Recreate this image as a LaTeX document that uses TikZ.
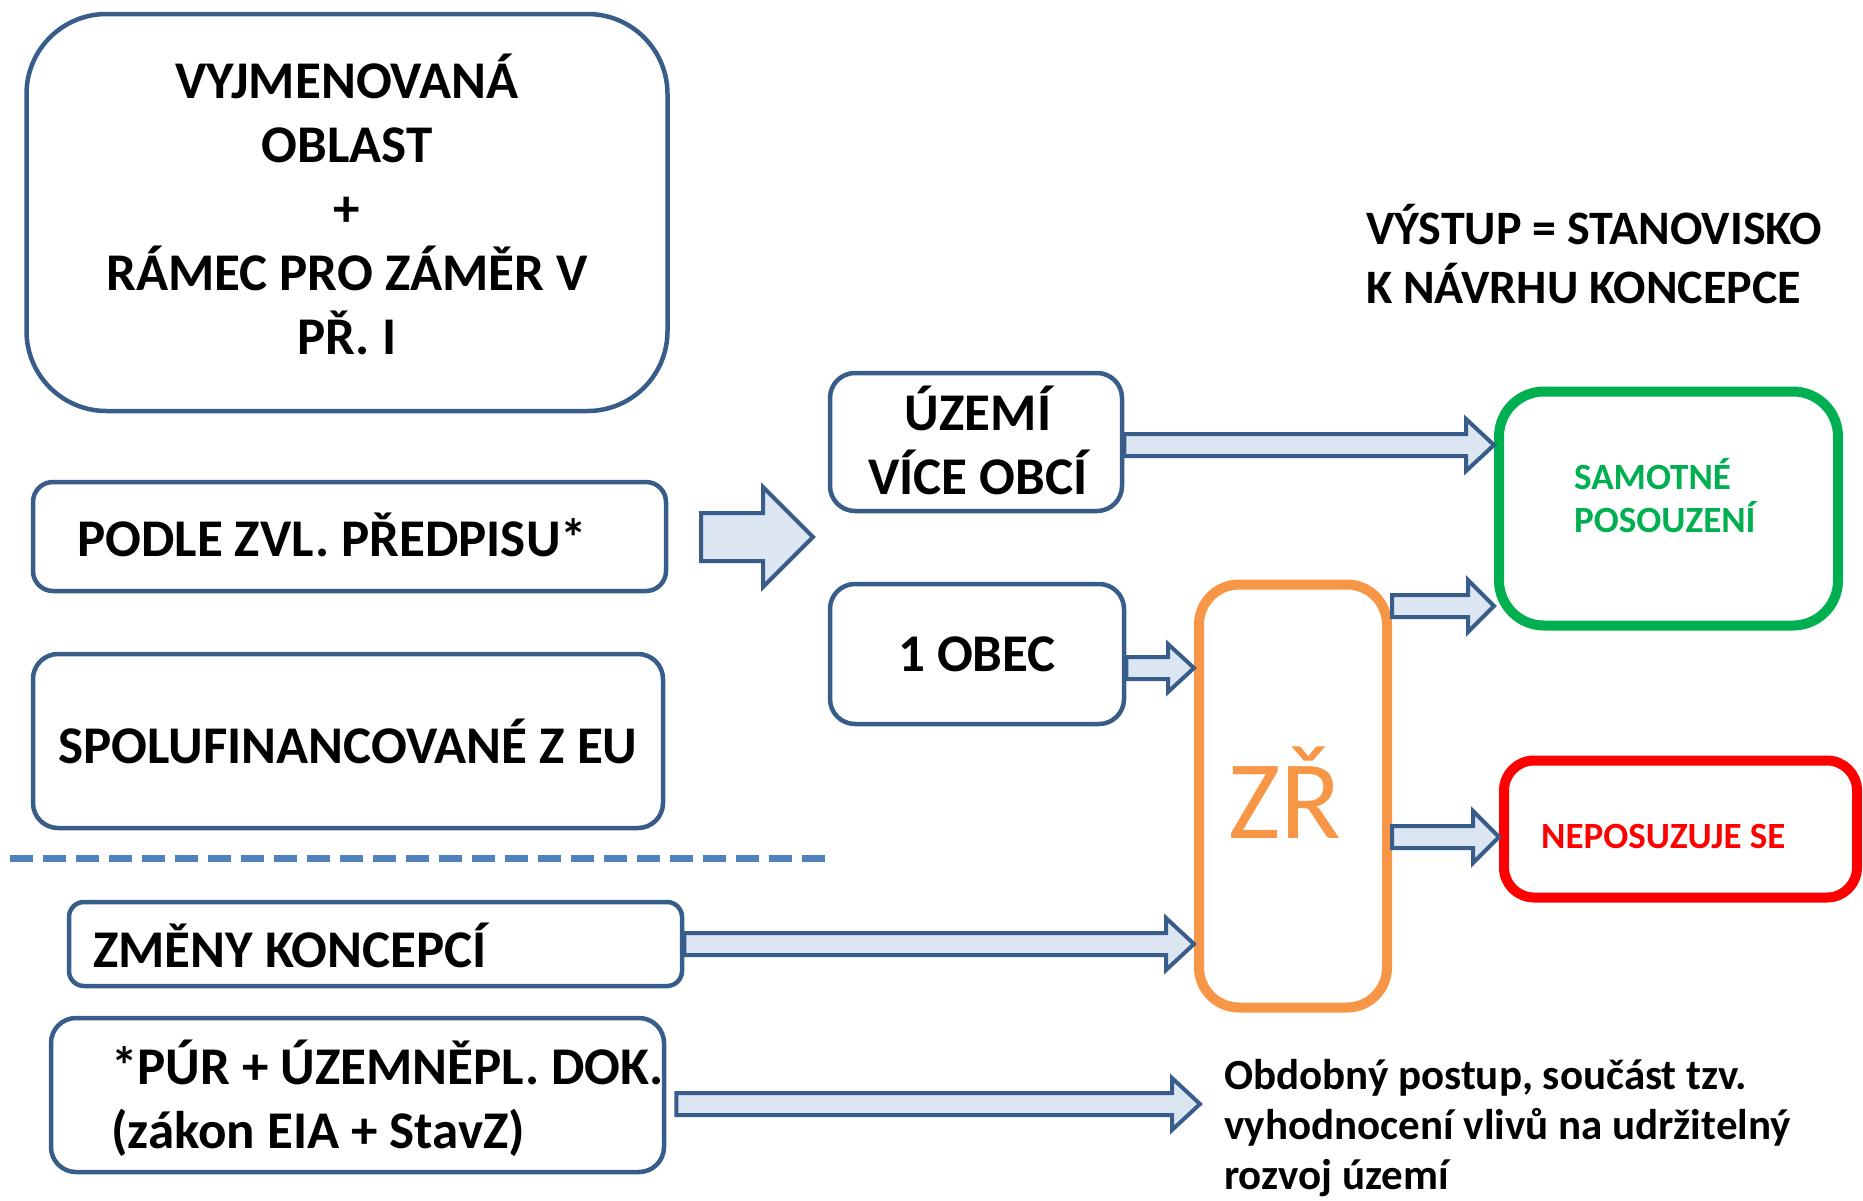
\documentclass[tikz,border=0pt]{standalone}
\usepackage{fontspec}
\setmainfont{Carlito}
\usetikzlibrary{calc}
\definecolor{bdark}{HTML}{385D8A}
\definecolor{bfill}{HTML}{DCE6F2}
\definecolor{bdash}{HTML}{4F81BD}
\definecolor{orng}{HTML}{F79646}
\definecolor{grn}{HTML}{00B050}
\definecolor{rd}{HTML}{FF0000}
\newcommand{\fsz}[2]{\fontsize{#1}{#2}\selectfont}
\newcommand{\blockarrow}[5]{%
  \draw[barrow] let \p1=#1, \p2=#2 in
   (\x1,\y1-#3) -- (\x2-#5,\y1-#3) -- (\x2-#5,\y1-#4) -- (\x2,\y1)
   -- (\x2-#5,\y1+#4) -- (\x2-#5,\y1+#3) -- (\x1,\y1+#3) -- cycle;}
\tikzset{
  bluebox/.style={draw=bdark, line width=4.5pt, fill=white, inner sep=0pt},
  barrow/.style={draw=bdark, line width=4pt, fill=bfill, line join=miter},
  bigtxt/.style={font=\bfseries\fsz{53}{64}, inner sep=0pt, align=center},
  lefttxt/.style={font=\bfseries\fsz{53}{64}, inner sep=0pt, align=left, anchor=west},
  dashline/.style={draw=bdash, line width=7pt, dash pattern=on 23pt off 10pt},
}
\begin{document}
\begin{tikzpicture}[x=1pt,y=-1pt]
\useasboundingbox (0,0) rectangle (1863,1200);
\fill[white] (0,0) rectangle (1863,1200);
% left boxes
\node[bluebox, rounded corners=80pt, minimum width=641pt, minimum height=397pt] (A) at (347,212.5) {};
\node[bigtxt] (At) at (347,204) {VYJMENOVANÁ\\OBLAST\\+\\RÁMEC PRO ZÁMĚR V\\PŘ. I};
\node[bluebox, rounded corners=20pt, minimum width=633pt, minimum height=109pt] (B) at (349.5,536.5) {};
\node[lefttxt] (Bt) at (77,535) {PODLE ZVL. PŘEDPISU*};
\node[bluebox, rounded corners=25pt, minimum width=630pt, minimum height=174pt, bigtxt] (C) at (348,741)
  {SPOLUFINANCOVANÉ Z EU};
\coordinate (dl1) at (10,858);
\coordinate (dl2) at (829,858);
\draw[dashline] (dl1) -- (dl2);
\node[bluebox, rounded corners=15pt, minimum width=613pt, minimum height=84pt] (D) at (375.5,944) {};
\node[lefttxt] (Dt) at (93,945) {ZMĚNY KONCEPCÍ};
\node[bluebox, rounded corners=25pt, minimum width=613pt, minimum height=154pt] (E) at (357.5,1095) {};
\node[lefttxt] (Et) at (111,1098) {*PÚR + ÚZEMNĚPL. DOK.\\(zákon EIA + StavZ)};
% middle
\node[bluebox, rounded corners=25pt, minimum width=292pt, minimum height=138pt] (F) at (976,442) {};
\node[bigtxt] (Ft) at (978,440) {ÚZEMÍ\\VÍCE OBCÍ};
\node[bluebox, rounded corners=25pt, minimum width=294pt, minimum height=140pt, bigtxt] (G) at (977,654)
  {1 OBEC};
\node[draw=orng, line width=10pt, rounded corners=40pt, minimum width=188pt, minimum height=423pt] (ZR) at (1293,796) {};
\node[font=\fsz{112}{130}, text=orng, inner sep=0pt] (ZRt) at (1285,793) {ZŘ};
% right
\node[draw=grn, line width=10pt, rounded corners=45pt, minimum width=339pt, minimum height=234pt] (S) at (1668.5,508.5) {};
\node[font=\bfseries\fsz{37}{43}, text=grn, align=left, anchor=west, inner sep=0pt] (St) at (1574,496) {SAMOTNÉ\\POSOUZENÍ};
\node[draw=rd, line width=10pt, rounded corners=30pt, minimum width=353pt, minimum height=137pt] (N) at (1680.5,829) {};
\node[font=\bfseries\fsz{37}{44}, text=rd, anchor=west, inner sep=0pt] (Nt) at (1541,836) {NEPOSUZUJE SE};
\node[font=\bfseries\fsz{48}{59}, align=left, anchor=west, inner sep=0pt] (title) at (1366,254)
  {VÝSTUP = STANOVISKO\\K NÁVRHU KONCEPCE};
\node[font=\bfseries\fsz{43}{50}, align=left, anchor=west, inner sep=0pt] (note) at (1224,1128)
  {Obdobný postup, součást tzv.\\vyhodnocení vlivů na udržitelný\\rozvoj území};
% arrows
\coordinate (ba1) at (701,537);
\coordinate (ba2) at (813,537);
\blockarrow{(ba1)}{(ba2)}{24pt}{50pt}{50pt}
\coordinate (y1) at (0,445);
\coordinate (y2) at (0,668);
\coordinate (y3) at (0,606);
\coordinate (y4) at (0,837);
\coordinate (y6) at (0,1104);
\blockarrow{(F.east |- y1)}{(S.west |- y1)}{11pt}{26pt}{28pt}
\blockarrow{(G.east |- y2)}{(ZR.west |- y2)}{11pt}{24pt}{26pt}
\blockarrow{(ZR.east |- y3)}{(S.west |- y3)}{11pt}{26pt}{26pt}
\blockarrow{(ZR.east |- y4)}{(N.west |- y4)}{11pt}{26pt}{26pt}
\blockarrow{(D.east)}{(ZR.west |- D.east)}{11pt}{26pt}{28pt}
\blockarrow{([xshift=10pt]E.east |- y6)}{([xshift=-24pt]note.west |- y6)}{11pt}{26pt}{28pt}
\end{tikzpicture}
\end{document}
